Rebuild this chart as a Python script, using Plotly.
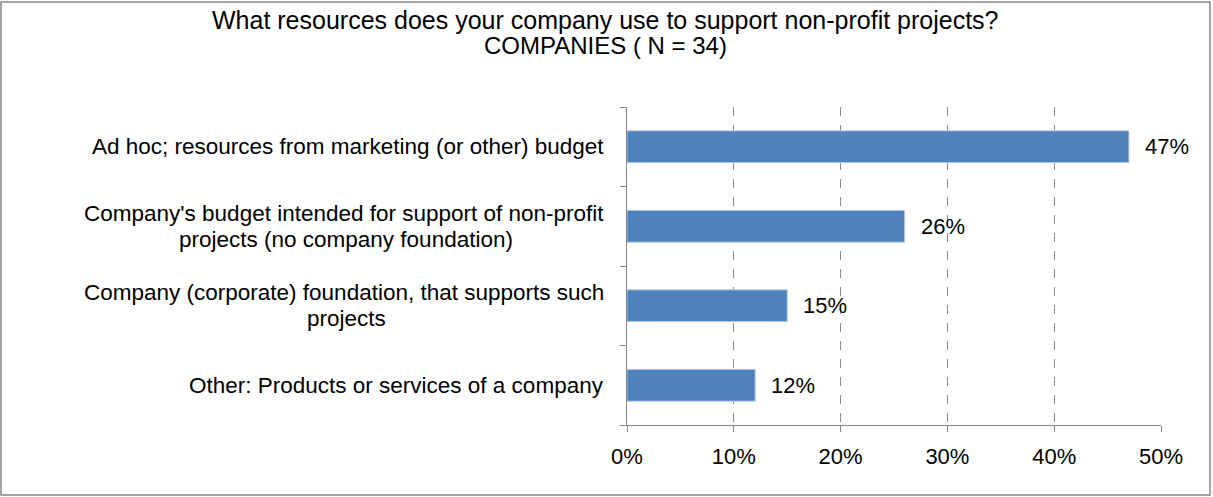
import plotly.graph_objects as go

# each category label is a list of its text lines
categories = [
    ["Ad hoc; resources from marketing (or other) budget"],
    ["Company's budget intended for support of non-profit", "projects (no company foundation)"],
    ["Company (corporate) foundation, that supports such", "projects"],
    ["Other: Products or services of a company"],
]
values = [47, 26, 15, 12]
x_ticks = [0, 10, 20, 30, 40, 50]
x_tick_labels = ["0%", "10%", "20%", "30%", "40%", "50%"]
title_lines = [
    "What resources does your company use to support non-profit projects?",
    "COMPANIES ( N = 34)",
]

FONT = "Liberation Sans, Arial, sans-serif"
PLOT_L, PLOT_R, PLOT_T, PLOT_B = 627, 1161, 107, 425
W, H = 1213, 497
PW, PH = PLOT_R - PLOT_L, PLOT_B - PLOT_T


def px_x(px):
    return (px - PLOT_L) / PW


def px_y(py):
    return (PLOT_B - py) / PH


ypos = list(range(len(categories)))[::-1]

fig = go.Figure(
    go.Bar(
        x=values,
        y=ypos,
        orientation="h",
        marker=dict(color="#4F81BD", line=dict(color="#B9CDE5", width=1)),
        width=0.4,
    )
)

# value labels to the right of each bar
for v, y in zip(values, ypos):
    fig.add_annotation(
        x=v, xref="x", y=y, yref="y",
        text=f"{v}%", showarrow=False, xanchor="left", yanchor="middle",
        xshift=14,
        font=dict(size=22, color="#000000", family=FONT),
    )

# category labels: first line right-aligned to the axis, continuation lines centred under it
LINE_GAP = 26
LABEL_CENTER = px_x(346)
for lines, y in zip(categories, ypos):
    n = len(lines)
    for i, line in enumerate(lines):
        shift = ((n - 1) / 2 - i) * LINE_GAP
        if i == 0:
            fig.add_annotation(
                x=0, xref="paper", y=y, yref="y", yshift=shift, xshift=-21,
                text=line, showarrow=False, xanchor="right", yanchor="middle",
                font=dict(size=22.5, color="#000000", family=FONT),
            )
        else:
            fig.add_annotation(
                x=LABEL_CENTER, xref="paper", y=y, yref="y", yshift=shift,
                text=line, showarrow=False, xanchor="center", yanchor="middle",
                font=dict(size=22.5, color="#000000", family=FONT),
            )

# two-line title
for text, cy, size in zip(title_lines, [20, 46], [25, 24]):
    fig.add_annotation(
        x=px_x(W / 2 - 1), xref="paper", y=px_y(cy), yref="paper",
        text=text, showarrow=False, xanchor="center", yanchor="middle",
        font=dict(size=size, color="#000000", family=FONT),
    )

fig.update_layout(
    width=W, height=H,
    margin=dict(l=PLOT_L, r=W - PLOT_R, t=PLOT_T, b=H - PLOT_B),
    paper_bgcolor="white", plot_bgcolor="white",
    showlegend=False,
    xaxis=dict(
        range=[0, 50], tickvals=x_ticks, ticktext=x_tick_labels,
        showgrid=True, gridcolor="#8C8C8C", griddash="dash", gridwidth=1,
        showline=True, linecolor="#868686", linewidth=1,
        ticks="outside", ticklen=6, tickcolor="#868686",
        ticklabelstandoff=6,
        tickfont=dict(size=22, color="#000000", family=FONT),
        zeroline=False, fixedrange=True,
    ),
    yaxis=dict(
        range=[-0.5, len(categories) - 0.5],
        tickvals=[i - 0.5 for i in range(len(categories) + 1)],
        ticktext=[""] * (len(categories) + 1),
        showgrid=False, showline=True, linecolor="#868686", linewidth=1,
        ticks="outside", ticklen=6, tickcolor="#868686",
        zeroline=False, fixedrange=True,
    ),
    shapes=[
        dict(type="rect", xref="paper", yref="paper",
             x0=px_x(1), x1=px_x(1210), y0=px_y(495), y1=px_y(2),
             line=dict(color="#868686", width=1.5), fillcolor="rgba(0,0,0,0)"),
    ],
)

fig.write_html("out.html")
